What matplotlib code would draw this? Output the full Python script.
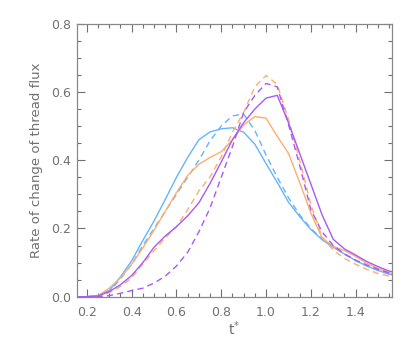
import matplotlib
matplotlib.use("Agg")
from matplotlib import pyplot as plt
from matplotlib.ticker import MultipleLocator

# time grid (t*)
t = [0.15, 0.20, 0.25, 0.30, 0.35, 0.40, 0.45, 0.50, 0.55, 0.60,
     0.65, 0.70, 0.75, 0.80, 0.85, 0.90, 0.95, 1.00, 1.05, 1.10,
     1.15, 1.20, 1.25, 1.30, 1.35, 1.40, 1.45, 1.50, 1.55, 1.60]

# rate of change of thread flux, one list per run
blue_solid = [0.0, 0.0, 0.004, 0.018, 0.058, 0.105, 0.165, 0.222, 0.285, 0.35,
              0.408, 0.46, 0.483, 0.492, 0.495, 0.482, 0.447, 0.39, 0.335, 0.277,
              0.235, 0.197, 0.167, 0.145, 0.125, 0.106, 0.09, 0.077, 0.066, 0.058]
blue_dash = [0.0, 0.0, 0.003, 0.015, 0.052, 0.095, 0.15, 0.2, 0.25, 0.3,
             0.35, 0.40, 0.457, 0.5, 0.53, 0.535, 0.487, 0.415, 0.35, 0.29,
             0.24, 0.2, 0.169, 0.146, 0.126, 0.106, 0.09, 0.077, 0.066, 0.058]
orange_solid = [0.0, 0.0, 0.003, 0.025, 0.055, 0.095, 0.143, 0.195, 0.25, 0.305,
                0.355, 0.388, 0.408, 0.425, 0.46, 0.503, 0.528, 0.523, 0.47, 0.42,
                0.335, 0.245, 0.172, 0.148, 0.135, 0.118, 0.098, 0.083, 0.07, 0.062]
orange_dash = [0.0, 0.0, 0.002, 0.012, 0.03, 0.055, 0.096, 0.135, 0.172, 0.205,
               0.255, 0.31, 0.351, 0.41, 0.482, 0.54, 0.615, 0.648, 0.622, 0.52,
               0.40, 0.27, 0.175, 0.137, 0.112, 0.095, 0.08, 0.068, 0.06, 0.055]
purple_solid = [0.0, 0.0, 0.002, 0.015, 0.035, 0.062, 0.1, 0.145, 0.178, 0.205,
                0.237, 0.275, 0.332, 0.395, 0.46, 0.51, 0.55, 0.582, 0.59, 0.51,
                0.42, 0.33, 0.24, 0.168, 0.14, 0.122, 0.103, 0.088, 0.075, 0.068]
purple_dash = [0.0, 0.0, 0.0, 0.003, 0.01, 0.018, 0.025, 0.04, 0.06, 0.09,
               0.13, 0.19, 0.26, 0.35, 0.44, 0.54, 0.59, 0.625, 0.615, 0.505,
               0.385, 0.255, 0.19, 0.15, 0.125, 0.107, 0.093, 0.08, 0.07, 0.065]

c_blue = '#66b3ff'
c_orange = '#ffad70'
c_purple = '#a85af5'
grey = '#707070'

fig = plt.figure(figsize=(4.15, 3.46), dpi=100)
ax = fig.add_axes([0.185, 0.1425, 0.76, 0.789])

dash = (4.5, 3)
ax.plot(t, blue_solid, color=c_blue, lw=1.0)
ax.plot(t, blue_dash, color=c_blue, lw=1.0, dashes=dash)
ax.plot(t, orange_solid, color=c_orange, lw=1.0)
ax.plot(t, orange_dash, color=c_orange, lw=1.0, dashes=dash)
ax.plot(t, purple_solid, color=c_purple, lw=1.0)
ax.plot(t, purple_dash, color=c_purple, lw=1.0, dashes=dash)

ax.set_xlim(0.155, 1.563)
ax.set_ylim(0, 0.8)
ax.xaxis.set_major_locator(MultipleLocator(0.2))
ax.xaxis.set_minor_locator(MultipleLocator(0.05))
ax.yaxis.set_major_locator(MultipleLocator(0.2))
ax.yaxis.set_minor_locator(MultipleLocator(0.05))
ax.xaxis.set_major_formatter(matplotlib.ticker.FormatStrFormatter('%.1f'))
ax.yaxis.set_major_formatter(matplotlib.ticker.FormatStrFormatter('%.1f'))

ax.tick_params(which='both', direction='in', top=True, right=True,
               color=grey, labelcolor=grey, labelsize=9, width=0.8)
ax.tick_params(which='major', length=6)
ax.tick_params(which='minor', length=3)
ax.tick_params(axis='x', pad=7)
ax.tick_params(axis='y', pad=4)
for s in ax.spines.values():
    s.set_color('#888888')
    s.set_linewidth(0.9)

ax.set_xlabel('t$^{*}$', color=grey, fontsize=10, labelpad=0)
ax.set_ylabel('Rate of change of thread flux', color=grey, fontsize=9.5, labelpad=6)

plt.savefig('out.png', dpi=100)
plt.close()
